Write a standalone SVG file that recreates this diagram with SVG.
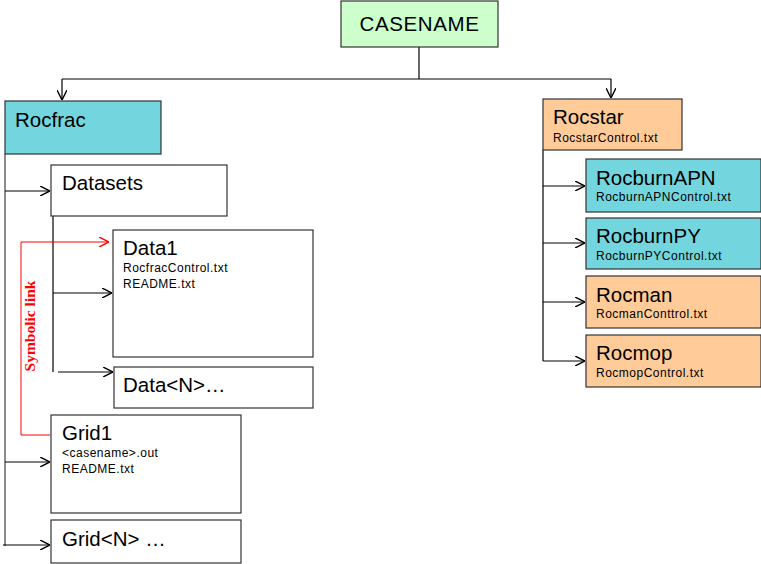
<svg xmlns="http://www.w3.org/2000/svg" width="761" height="564" viewBox="0 0 761 564">
<style>
.box{stroke:#333;stroke-width:1.2}
.w{fill:#fff}
.cy{fill:#73d6de}
.or{fill:#ffcc99}
.gr{fill:#ccffcc}
.t{font-family:"Liberation Sans",Arial,sans-serif;font-size:20.5px;fill:#000}
.s{font-family:"Liberation Sans",Arial,sans-serif;font-size:12px;fill:#000;letter-spacing:0.5px}
.c{fill:none;stroke:#000;stroke-width:1.2}
.g{fill:none;stroke:#666;stroke-width:1.5}
.r{fill:none;stroke:#f00;stroke-width:1}
</style>
<defs>
<marker id="a" viewBox="0 0 10 10" refX="10" refY="5" markerWidth="10" markerHeight="10" markerUnits="userSpaceOnUse" orient="auto">
<path d="M0,0 L10,5 L0,10" fill="none" stroke="#000" stroke-width="1.4"/>
</marker>
<marker id="ar" viewBox="0 0 10 10" refX="10" refY="5" markerWidth="10" markerHeight="10" markerUnits="userSpaceOnUse" orient="auto">
<path d="M0,0 L10,5 L0,10" fill="none" stroke="#f00" stroke-width="1.4"/>
</marker>
</defs>
<g id="connectors">
<path class="c" d="M419,47 V79"/>
<path class="c" d="M62,79 H611"/>
<path class="c" d="M62,79 V100" marker-end="url(#a)"/>
<path class="c" d="M611,79 V98" marker-end="url(#a)"/>
<path class="g" d="M5,154 V546"/>
<path class="c" d="M5,191 H50" marker-end="url(#a)"/>
<path class="c" d="M5,462 H50" marker-end="url(#a)"/>
<path class="c" d="M3,545 H50" marker-end="url(#a)"/>
<path class="c" d="M53,216 V372"/>
<path class="c" d="M53,293 H112" marker-end="url(#a)"/>
<path class="c" d="M58,372 H113" marker-end="url(#a)"/>
<path class="r" d="M50,435 H21 V242 H109" marker-end="url(#ar)"/>
<path class="c" d="M543,150 V361"/>
<path class="c" d="M543,186 H585" marker-end="url(#a)"/>
<path class="c" d="M543,243 H585" marker-end="url(#a)"/>
<path class="c" d="M543,302 H585" marker-end="url(#a)"/>
<path class="c" d="M543,361 H585" marker-end="url(#a)"/>
<text transform="translate(35,326) rotate(-90)" text-anchor="middle" font-family="Liberation Serif,Times New Roman,serif" font-weight="bold" font-size="15.5" fill="#f00">Symbolic link</text>
</g>
<g id="casename">
<rect class="box gr" x="341" y="1" width="157" height="46"/>
<text class="t" x="419.5" y="31" text-anchor="middle" letter-spacing="0.6">CASENAME</text>
</g>
<g id="rocfrac">
<rect class="box cy" x="5" y="101" width="156" height="53"/>
<text class="t" x="15" y="127">Rocfrac</text>
</g>
<g id="datasets">
<rect class="box w" x="51" y="165" width="176" height="51"/>
<text class="t" x="62" y="190">Datasets</text>
</g>
<g id="data1">
<rect class="box w" x="113" y="230" width="200" height="127"/>
<text class="t" x="123" y="255">Data1</text>
<text class="s" x="123" y="272">RocfracControl.txt</text>
<text class="s" x="123" y="288">README.txt</text>
</g>
<g id="dataN">
<rect class="box w" x="114" y="367" width="199" height="41"/>
<text class="t" x="123" y="392">Data&lt;N&gt;…</text>
</g>
<g id="grid1">
<rect class="box w" x="51" y="415" width="190" height="98"/>
<text class="t" x="62" y="440">Grid1</text>
<text class="s" x="62" y="457">&lt;casename&gt;.out</text>
<text class="s" x="62" y="473">README.txt</text>
</g>
<g id="gridN">
<rect class="box w" x="51" y="520" width="190" height="43"/>
<text class="t" x="62" y="546">Grid&lt;N&gt; …</text>
</g>
<g id="rocstar">
<rect class="box or" x="543" y="99" width="139" height="51"/>
<text class="t" x="553" y="124">Rocstar</text>
<text class="s" x="553" y="142">RocstarControl.txt</text>
</g>
<g id="rocburnapn">
<rect class="box cy" x="586" y="159" width="175" height="53"/>
<text class="t" x="596" y="185">RocburnAPN</text>
<text class="s" x="596" y="201">RocburnAPNControl.txt</text>
</g>
<g id="rocburnpy">
<rect class="box cy" x="586" y="218" width="175" height="51"/>
<text class="t" x="596" y="243">RocburnPY</text>
<text class="s" x="596" y="260">RocburnPYControl.txt</text>
</g>
<g id="rocman">
<rect class="box or" x="586" y="276" width="175" height="52"/>
<text class="t" x="596" y="302">Rocman</text>
<text class="s" x="596" y="318">RocmanConttrol.txt</text>
</g>
<g id="rocmop">
<rect class="box or" x="586" y="335" width="175" height="52"/>
<text class="t" x="596" y="360">Rocmop</text>
<text class="s" x="596" y="377">RocmopControl.txt</text>
</g>
</svg>
